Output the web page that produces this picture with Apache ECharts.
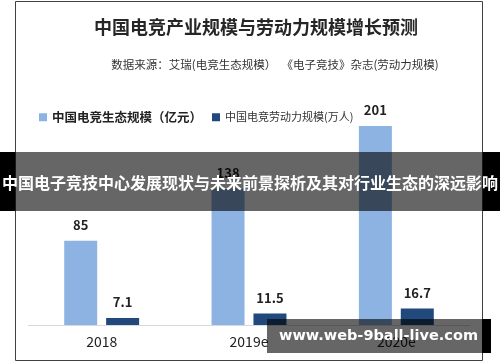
<!DOCTYPE html>
<html>
<head>
<meta charset="utf-8">
<script src="https://cdn.jsdelivr.net/npm/echarts@6/dist/echarts.min.js"></script>
<style>
html,body{margin:0;padding:0;background:#fff;}
#c{width:500px;height:362px;}
</style>
</head>
<body>
<div id="c"></div>
<script>
var categories = ['2018', '2019e', '2020e'];
var ecoScale = [85, 138, 201];
var laborScale = [7.1, 11.5, 16.7];
var seriesNames = ['中国电竞生态规模（亿元）', '中国电竞劳动力规模(万人)'];
var titleText = '中国电竞产业规模与劳动力规模增长预测';
var subText = '数据来源：艾瑞(电竞生态规模）  《电子竞技》杂志(劳动力规模)';
var bannerText = '中国电子竞技中心发展现状与未来前景探析及其对行业生态的深远影响';
var watermarkText = 'www.web-9ball-live.com';

var FONT = '"Noto Sans CJK SC", "Noto Sans", sans-serif';
var chart = echarts.init(document.getElementById('c'), null, {renderer: 'canvas'});
var labelStyle = {
  show: true, position: 'top', distance: 9,
  fontSize: 13, fontWeight: 'bold', color: '#222', fontFamily: FONT
};
chart.setOption({
  animation: false,
  title: [
    {text: titleText, left: 251, top: 13, textAlign: 'center',
     textStyle: {fontSize: 18, fontWeight: 'bold', color: '#262626', fontFamily: FONT}},
    {text: subText, left: 270, top: 54, textAlign: 'center',
     textStyle: {fontSize: 11.5, fontWeight: 'normal', color: '#333', fontFamily: FONT}}
  ],
  legend: {
    left: 34, top: 106, itemWidth: 8, itemHeight: 8, itemGap: 10,
    icon: 'rect',
    data: [
      {name: seriesNames[0], textStyle: {fontSize: 12.5, fontWeight: 'bold', color: '#222', fontFamily: FONT}},
      {name: seriesNames[1], textStyle: {fontSize: 11, fontWeight: 'normal', color: '#333', fontFamily: FONT}}
    ]
  },
  grid: {left: 28, right: 30, top: 77.5, bottom: 37},
  xAxis: {
    type: 'category', data: categories,
    axisLine: {lineStyle: {color: '#d9d9d9', width: 1}},
    axisTick: {show: false},
    axisLabel: {fontSize: 14, color: '#222', margin: 10, fontFamily: FONT}
  },
  yAxis: {type: 'value', min: 0, max: 250, show: false, splitLine: {show: false}},
  series: [
    {name: seriesNames[0], type: 'bar', data: ecoScale, barWidth: 33, barGap: '27%',
     itemStyle: {color: '#8DB3E2'}, label: labelStyle},
    {name: seriesNames[1], type: 'bar', data: laborScale, barWidth: 33,
     itemStyle: {color: '#21497C'}, label: labelStyle}
  ],
  graphic: [
    {type: 'rect', z: 100, shape: {x: 15.5, y: 1.5, width: 467, height: 359},
     style: {fill: 'none', stroke: '#404040', lineWidth: 1}},
    {type: 'rect', z: 101, shape: {x: 0, y: 152, width: 500, height: 59},
     style: {fill: 'rgba(0,0,0,0.6)'}},
    {type: 'rect', z: 101, shape: {x: 0, y: 152, width: 15, height: 59},
     style: {fill: '#000'}},
    {type: 'rect', z: 101, shape: {x: 483, y: 152, width: 17, height: 59},
     style: {fill: '#000'}},
    {type: 'text', z: 102, x: 250, y: 183,
     style: {text: bannerText, fill: '#fff', font: 'bold 16px "Noto Sans CJK SC", sans-serif',
             textAlign: 'center', textVerticalAlign: 'middle'}},
    {type: 'rect', z: 101, shape: {x: 267, y: 319, width: 215, height: 34},
     style: {fill: 'rgba(0,0,0,0.6)'}},
    {type: 'rect', z: 101, shape: {x: 482, y: 319, width: 9, height: 34},
     style: {fill: '#000'}},
    {type: 'text', z: 102, x: 378.5, y: 336,
     style: {text: watermarkText, fill: '#fff', font: 'bold 14.5px "DejaVu Sans", sans-serif',
             textAlign: 'center', textVerticalAlign: 'middle'}}
  ]
});
</script>
</body>
</html>
